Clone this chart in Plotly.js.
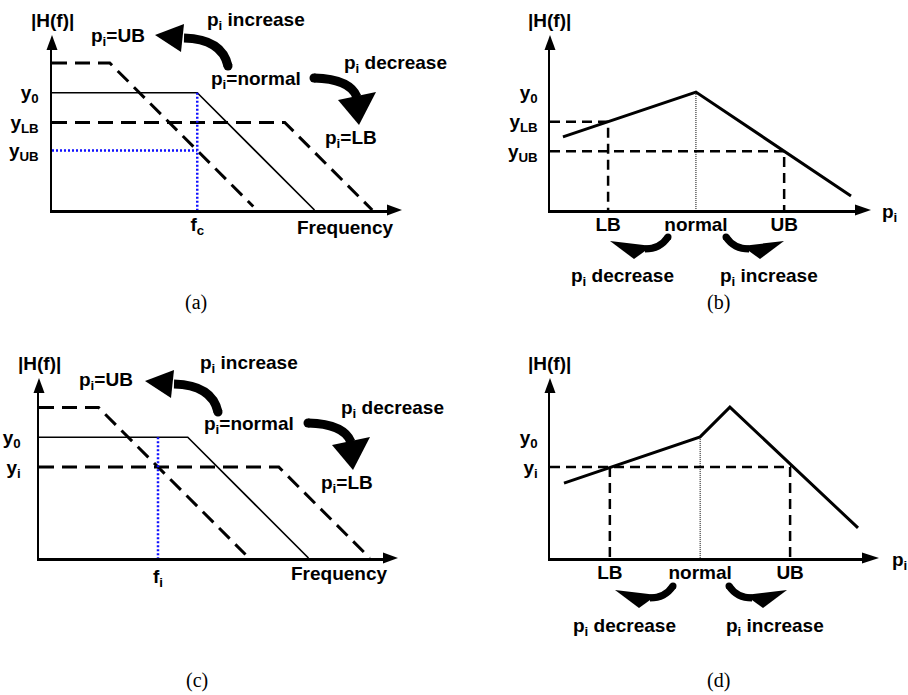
<!DOCTYPE html>
<html><head><meta charset="utf-8">
<script src="https://cdn.plot.ly/plotly-3.0.1.min.js"></script>
<style>html,body{margin:0;padding:0;background:#fff}#chart{width:908px;height:695px}</style>
</head><body><div id="chart"></div>
<script>
// ---------- data ----------
// panel (a): |H(f)| versus frequency for three parameter values
const freqA_UB = [0, 1.65, 5.75];
const magA_UB  = [4.2, 4.2, 0.1];
const freqA_N  = [0, 4.15, 7.5];
const magA_N   = [3.35, 3.35, 0];
const freqA_LB = [0, 6.65, 9.15];
const magA_LB  = [2.5, 2.5, 0];
const fcA = 4.15;
const yTicksA = [3.35, 2.5, 1.7];
const yTickTextA = ['y<sub>0</sub>', 'y<sub>LB</sub>', 'y<sub>UB</sub>'];
// panel (b): |H(f)| versus p_i
const pB   = [0.37, 4.17, 8.6];
const magB = [2.09, 3.37, 0.4];
const pTicksB = [1.66, 4.17, 6.69];
const pTickText = ['LB', 'normal', 'UB'];
const yTicksB = [3.37, 2.52, 1.68];
// panel (c)
const freqC_UB = [0, 1.7, 5.9];
const magC_UB  = [4.3, 4.3, 0.1];
const freqC_N  = [0, 4.25, 7.7];
const magC_N   = [3.45, 3.45, 0];
const freqC_LB = [0, 6.85, 9.45];
const magC_LB  = [2.6, 2.6, 0];
const fiC = 3.4;
const yTicksC = [3.45, 2.6];
const yTickTextC = ['y<sub>0</sub>', 'y<sub>i</sub>'];
// panel (d)
const pD   = [0.4, 4.29, 5.14, 8.8];
const magD = [2.14, 3.46, 4.31, 0.86];
const pTicksD = [1.71, 4.29, 6.86];
const yTicksD = [3.46, 2.6];

// ---------- layout geometry (pixels) ----------
const W = 908, H = 695, S = 35;
const G = {
  a: {ox: 52,  oy: 210, xb: 387, xt: 402, yb: 50,  yt: 35},
  b: {ox: 550, oy: 210, xb: 855, xt: 871, yb: 50,  yt: 35},
  c: {ox: 39,  oy: 558, xb: 383, xt: 398, yb: 393, yt: 378},
  d: {ox: 550, oy: 558, xb: 862, xt: 879, yb: 393, yt: 378}
};
const FONT = 'Liberation Sans, Arial, sans-serif';
const tf = {family: FONT, size: 19, color: '#000', weight: 700};

function xAx(g, anchor, vals, text, stand) {
  return {domain: [g.ox / W, g.xb / W], range: [0, (g.xb - g.ox) / S], anchor: anchor,
    showline: true, linecolor: '#000', linewidth: 2.5, showgrid: false, zeroline: false,
    ticks: '', tickmode: 'array', tickvals: vals, ticktext: text, tickfont: tf,
    ticklabelstandoff: stand, fixedrange: true};
}
function yAx(g, anchor, vals, text, stand) {
  return {domain: [1 - g.oy / H, 1 - g.yb / H], range: [0, (g.oy - g.yb) / S], anchor: anchor,
    showline: true, linecolor: '#000', linewidth: 2.5, showgrid: false, zeroline: false,
    ticks: '', tickmode: 'array', tickvals: vals, ticktext: text, tickfont: tf,
    ticklabelstandoff: stand, fixedrange: true};
}

function ln(x, y, xa, ya, w, dash, color) {
  return {type: 'scatter', mode: 'lines', x: x, y: y, xaxis: xa, yaxis: ya, hoverinfo: 'skip',
    line: {color: color || '#000', width: w, dash: dash || 'solid'}};
}
const DA = '15px,8px', DB = '10px,6px', BLUE = '#1010ff';

const traces = [
  // (a)
  ln(freqA_UB, magA_UB, 'x', 'y', 3, DA),
  ln(freqA_N, magA_N, 'x', 'y', 1.6),
  ln(freqA_LB, magA_LB, 'x', 'y', 3, DA),
  ln([fcA, fcA], [magA_N[1], 0], 'x', 'y', 2.5, '2px,2px', BLUE),
  ln([0, fcA], [yTicksA[2], yTicksA[2]], 'x', 'y', 2.5, '2px,2px', BLUE),
  // (b)
  ln([0, pTicksB[0], pTicksB[0]], [yTicksB[1], yTicksB[1], 0], 'x2', 'y2', 2.5, DB),
  ln([0, pTicksB[2], pTicksB[2]], [yTicksB[2], yTicksB[2], 0], 'x2', 'y2', 2.5, DB),
  ln([pTicksB[1], pTicksB[1]], [magB[1], 0], 'x2', 'y2', 1, '1px,1px'),
  ln(pB, magB, 'x2', 'y2', 3),
  // (c)
  ln(freqC_UB, magC_UB, 'x3', 'y3', 3, DA),
  ln(freqC_N, magC_N, 'x3', 'y3', 1.6),
  ln(freqC_LB, magC_LB, 'x3', 'y3', 3, DA),
  ln([fiC, fiC], [magC_N[1], 0], 'x3', 'y3', 2.5, '2px,2px', BLUE),
  // (d)
  ln([0, pTicksD[2], pTicksD[2]], [yTicksD[1], yTicksD[1], 0], 'x4', 'y4', 2.5, DB),
  ln([pTicksD[0], pTicksD[0]], [yTicksD[1], 0], 'x4', 'y4', 2.5, DB),
  ln([pTicksD[1], pTicksD[1]], [magD[1], 0], 'x4', 'y4', 1, '1px,1px'),
  ln(pD, magD, 'x4', 'y4', 3),
  // overlay (pixel space, for decorations)
  {type: 'scatter', mode: 'lines', x: [], y: [], xaxis: 'x5', yaxis: 'y5', hoverinfo: 'skip'}
];

// ---------- decorations in pixel space ----------
const shapes = [];
function P(pts) { return pts.map((p, i) => (i ? 'L' : 'M') + p[0] + ',' + p[1]).join(' ') + ' Z'; }
function tri(pts) {
  shapes.push({type: 'path', xref: 'x5', yref: 'y5', path: P(pts), fillcolor: '#000', line: {width: 0}});
}
function curvedArrow(a, dx, dy, w) {
  const t = [a.tail[0] + dx, a.tail[1] + dy], c = [a.ctrl[0] + dx, a.ctrl[1] + dy], e = [a.end[0] + dx, a.end[1] + dy];
  shapes.push({type: 'path', xref: 'x5', yref: 'y5', path: `M${t[0]},${t[1]} Q${c[0]},${c[1]} ${e[0]},${e[1]}`,
    line: {color: '#000', width: w}});
  shapes.push({type: 'circle', xref: 'x5', yref: 'y5', x0: t[0] - w / 2, x1: t[0] + w / 2, y0: t[1] - w / 2, y1: t[1] + w / 2,
    fillcolor: '#000', line: {width: 0}});
  tri(a.head.map(p => [p[0] + dx, p[1] + dy]));
}
const arrUp   = {tail: [228, 66], ctrl: [222, 39], end: [184, 38], head: [[184, 24], [155, 35], [181, 52]]};
const arrDown = {tail: [314, 78], ctrl: [350, 79], end: [357, 97], head: [[338, 100], [359, 125], [376, 92]]};
const arrL    = {tail: [668, 237], ctrl: [660, 249], end: [645, 249], head: [[610, 241], [634, 259], [652, 246]]};
const arrR    = {tail: [726, 237], ctrl: [734, 249], end: [749, 249], head: [[784, 241], [760, 259], [742, 246]]};
curvedArrow(arrUp, 0, 0, 9);   curvedArrow(arrDown, 0, 0, 9);
curvedArrow(arrUp, -10, 346, 9); curvedArrow(arrDown, -6, 345, 9);
curvedArrow(arrL, 0, 0, 7);    curvedArrow(arrR, 0, 0, 7);
curvedArrow(arrL, 5, 349, 7);  curvedArrow(arrR, 3, 349, 7);

// axis arrow heads
Object.values(G).forEach(g => {
  tri([[g.xb, g.oy - 5.5], [g.xt, g.oy], [g.xb, g.oy + 5.5]]);
  tri([[g.ox - 5.5, g.yb], [g.ox, g.yt], [g.ox + 5.5, g.yb]]);
});

const annotations = [];
function A(text, x, y, font) {
  annotations.push({text: text, x: x, y: y, xref: 'x5', yref: 'y5', showarrow: false,
    xanchor: 'center', yanchor: 'middle', font: font || tf});
}
const pi = 'p<sub>i</sub>';
// (a)
A('|H(f)|', 52, 20); A(pi + '=UB', 118, 37); A(pi + ' increase', 256, 21);
A(pi + '=normal', 256, 80); A(pi + ' decrease', 395, 64); A(pi + '=LB', 351, 139);
A('Frequency', 345, 227);
// (c)
A('|H(f)|', 39, 363); A(pi + '=UB', 106, 381); A(pi + ' increase', 249, 364);
A(pi + '=normal', 249, 425); A(pi + ' decrease', 392, 409); A(pi + '=LB', 347, 484);
A('Frequency', 339, 573);
// (b)
A('|H(f)|', 549, 20); A(pi, 889, 213); A(pi + ' decrease', 622, 277); A(pi + ' increase', 769, 277);
// (d)
A('|H(f)|', 549, 363); A(pi, 899, 561); A(pi + ' decrease', 624, 627); A(pi + ' increase', 775, 627);
// captions
const capFont = {family: 'Liberation Serif, Times New Roman, serif', size: 20, color: '#000'};
A('(a)', 196, 302, capFont); A('(b)', 718, 302, capFont);
A('(c)', 197, 680, capFont); A('(d)', 718, 680, capFont);

const layout = {
  width: W, height: H, margin: {l: 0, r: 0, t: 0, b: 0, pad: 0},
  paper_bgcolor: '#fff', plot_bgcolor: 'rgba(0,0,0,0)', showlegend: false,
  xaxis:  xAx(G.a, 'y',  [fcA], ['f<sub>c</sub>'], -4),
  yaxis:  yAx(G.a, 'x',  yTicksA, yTickTextA, 7),
  xaxis2: xAx(G.b, 'y2', pTicksB, pTickText, -4),
  yaxis2: yAx(G.b, 'x2', yTicksB, yTickTextA, 6),
  xaxis3: xAx(G.c, 'y3', [fiC], ['f<sub>i</sub>'], 0),
  yaxis3: yAx(G.c, 'x3', yTicksC, yTickTextC, 12),
  xaxis4: xAx(G.d, 'y4', pTicksD, pTickText, -4),
  yaxis4: yAx(G.d, 'x4', yTicksD, yTickTextC, 6),
  xaxis5: {domain: [0, 1], range: [0, W], anchor: 'y5', visible: false, fixedrange: true},
  yaxis5: {domain: [0, 1], range: [H, 0], anchor: 'x5', visible: false, fixedrange: true},
  shapes: shapes, annotations: annotations
};
Plotly.newPlot('chart', traces, layout, {staticPlot: true, displayModeBar: false});
</script></body></html>
